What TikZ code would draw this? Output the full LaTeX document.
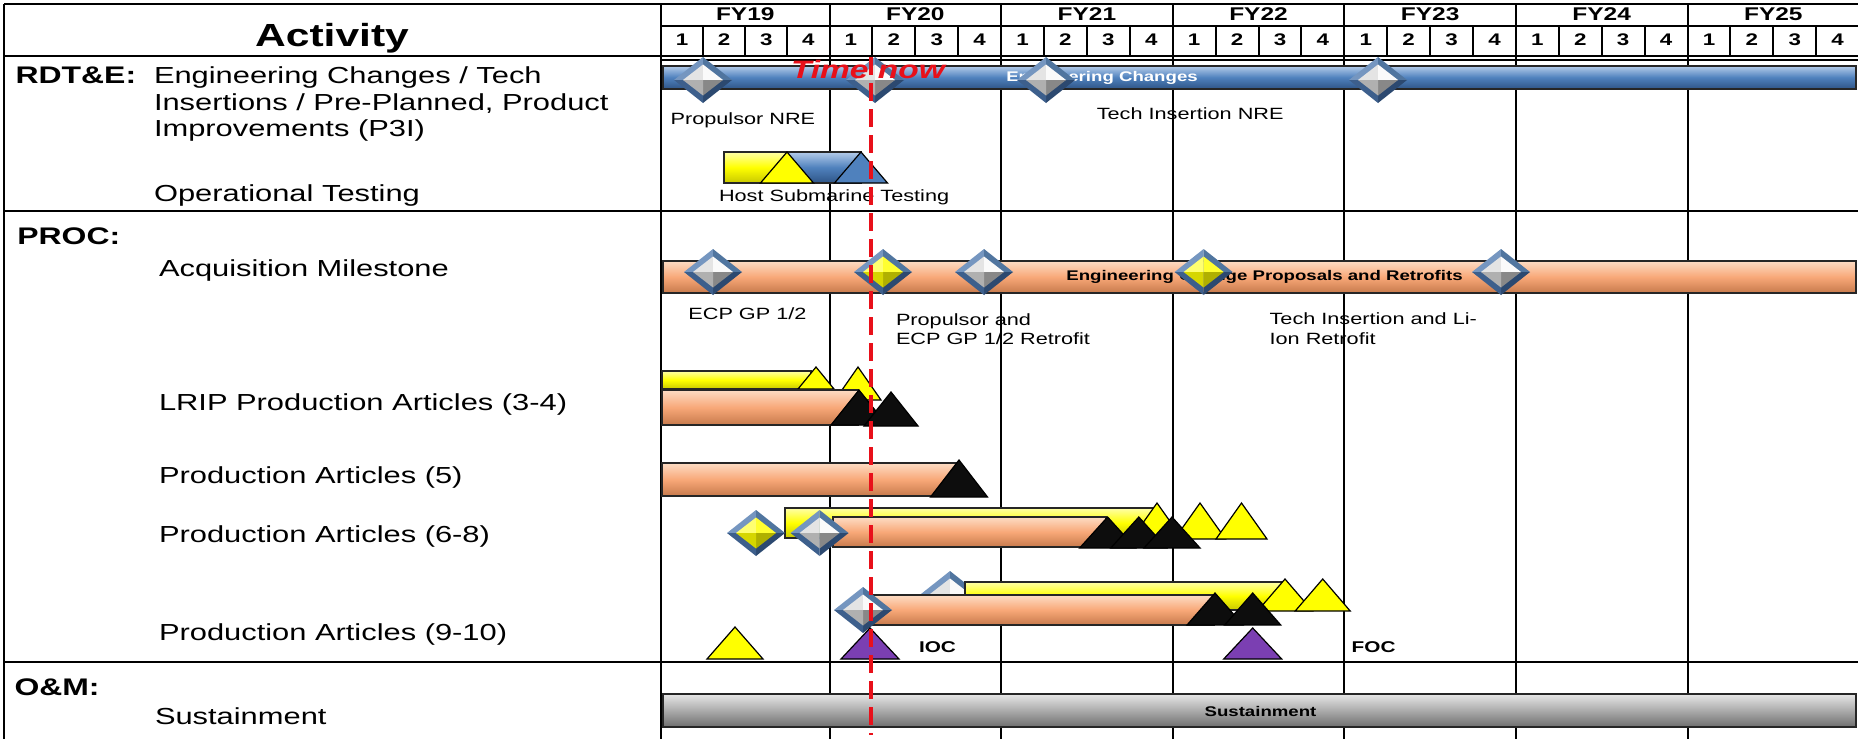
\documentclass[tikz,border=0pt]{standalone}
\usepackage{fontspec}
\setmainfont{Liberation Sans}
\definecolor{bT}{HTML}{B4CCEA}
\definecolor{bM}{HTML}{4F81BD}
\definecolor{bB}{HTML}{2F5587}
\definecolor{sT}{HTML}{FDDCC4}
\definecolor{sM}{HTML}{F8A878}
\definecolor{sB}{HTML}{C77A4C}
\definecolor{yT}{HTML}{FFFFA8}
\definecolor{yM}{HTML}{FFFF00}
\definecolor{yB}{HTML}{C8C800}
\definecolor{gT}{HTML}{E6E6E6}
\definecolor{gM}{HTML}{ABABAB}
\definecolor{gB}{HTML}{6E6E6E}
\definecolor{dUL}{HTML}{7596C0}
\definecolor{dUR}{HTML}{50759F}
\definecolor{dLR}{HTML}{2C4970}
\definecolor{dLL}{HTML}{3D5F8C}
\definecolor{wUL}{HTML}{E4E4E4}
\definecolor{wUR}{HTML}{FAFAFA}
\definecolor{wLR}{HTML}{888888}
\definecolor{wLL}{HTML}{B0B0B0}
\definecolor{yUL}{HTML}{FFFF70}
\definecolor{yUR}{HTML}{FFFF30}
\definecolor{yLR}{HTML}{B0B000}
\definecolor{yLL}{HTML}{D6D600}
\definecolor{purp}{HTML}{7B3FB2}
\definecolor{tnred}{HTML}{E8101A}
\newcommand\msDia[3]{%
  \fill[dUL] ({#1-29},{#2}) -- ({#1},{#2-23}) -- ({#1},{#2}) -- cycle;
  \fill[dUR] ({#1},{#2-23}) -- ({#1+29},{#2}) -- ({#1},{#2}) -- cycle;
  \fill[dLR] ({#1+29},{#2}) -- ({#1},{#2+23}) -- ({#1},{#2}) -- cycle;
  \fill[dLL] ({#1},{#2+23}) -- ({#1-29},{#2}) -- ({#1},{#2}) -- cycle;
  \fill[#3UL] ({#1-20},{#2}) -- ({#1},{#2-15.5}) -- ({#1},{#2}) -- cycle;
  \fill[#3UR] ({#1},{#2-15.5}) -- ({#1+20},{#2}) -- ({#1},{#2}) -- cycle;
  \fill[#3LR] ({#1+20},{#2}) -- ({#1},{#2+15.5}) -- ({#1},{#2}) -- cycle;
  \fill[#3LL] ({#1},{#2+15.5}) -- ({#1-20},{#2}) -- ({#1},{#2}) -- cycle;
}
\newcommand\msTri[5]{\draw[#5] ({#1},{#2}) -- ({#1+#4},{#3}) -- ({#1-#4},{#3}) -- cycle;}
\newcommand\msBar[5]{\draw[#5] ({#1},{#2}) rectangle ({#3},{#4});}
\begin{document}
\begin{tikzpicture}[x=0.5pt,y=-0.5pt,
  gridline/.style={line width=1pt,black},
  txt/.style={inner sep=0pt,outer sep=0pt,xscale=1.33},
  hdr/.style={txt,anchor=base,font=\fontsize{9.2}{10}\selectfont\bfseries},
  qtr/.style={txt,anchor=base,font=\fontsize{8.4}{10}\selectfont\bfseries},
  sec/.style={txt,anchor=base west,font=\fontsize{12}{14}\selectfont\bfseries},
  act/.style={txt,anchor=base west,font=\fontsize{11.6}{13}\selectfont},
  small/.style={txt,anchor=base west,font=\fontsize{8.15}{9.5}\selectfont},
  barlab/.style={txt,anchor=center,font=\fontsize{7}{8}\selectfont\bfseries},
  msl/.style={txt,anchor=west,font=\fontsize{7.8}{9}\selectfont\bfseries},
  barout/.style={draw=black!85,line width=0.6pt},
  bluebar/.style={barout,top color=bT,bottom color=bB,middle color=bM},
  salbar/.style={barout,top color=sT,bottom color=sB,middle color=sM},
  yelbar/.style={barout,top color=yT,bottom color=yB,middle color=yM},
  graybar/.style={barout,top color=gT,bottom color=gB,middle color=gM},
  ytri/.style={fill=yM,draw=black,line width=0.6pt,line join=miter},
  btri/.style={fill=black!95,draw=black,line width=0.6pt,line join=miter},
  bltri/.style={fill=bM,draw=black,line width=0.6pt,line join=miter},
  ptri/.style={fill=purp,draw=black,line width=0.6pt,line join=miter},
  timenow/.style={draw=tnred,line width=2.1pt,dash pattern=on 9pt off 4pt}
]
\useasboundingbox (0,0) rectangle (1858,739);
\fill[white] (0,0) rectangle (1858,739);
% ---- grid ----
\draw[gridline] (661,4) -- (661,739);
\foreach \k in {0,...,5}{\draw[gridline] ({829.5+171.6*\k},4) -- ({829.5+171.6*\k},739);}
\foreach \q in {1,2,3}{\draw[gridline] ({661+42.125*\q},26) -- ({661+42.125*\q},56);}
\foreach \q in {5,...,27}{\draw[gridline] ({829.5+42.9*(\q-4)},26) -- ({829.5+42.9*(\q-4)},56);}
\draw[line width=1.2pt] (4,4) -- (1858,4);
\draw[line width=1.2pt] (4,4) -- (4,739);
\draw[gridline] (661,26) -- (1858,26);
\draw[gridline] (4,56) -- (1858,56);
\draw[gridline] (661,59.5) -- (1858,59.5);
\draw[line width=1.2pt] (4,211) -- (1858,211);
\draw[line width=1.2pt] (4,662) -- (1858,662);
% ---- header text ----
\node[txt,anchor=base,font=\fontsize{16}{18}\selectfont\bfseries] (hact) at (332,46.7) {Activity};
\node[hdr] (fy19) at (745.25,20.7) {FY19};
\foreach \y [count=\i from 0] in {20,...,25}{\node[hdr] (fy\y) at ({829.5+171.6*\i+85.8},20.7) {FY\y};}
\foreach \q in {0,...,3}{\pgfmathtruncatemacro\qn{\q+1}\node[qtr] (q\q) at ({661+42.125*(\q+0.5)},45) {\qn};}
\foreach \q in {4,...,27}{\pgfmathtruncatemacro\qn{mod(\q,4)+1}\node[qtr] (q\q) at ({829.5+42.9*(\q-4+0.5)},45) {\qn};}
% ---- activity column ----
\node[sec] (srdte) at (15.6,83.3) {RDT\&E:};
\node[act] (a1) at (154,83.3) {Engineering Changes / Tech};
\node[act] (a2) at (154,110) {Insertions / Pre-Planned, Product};
\node[act] (a3) at (154,136.6) {Improvements (P3I)};
\node[act] (a4) at (154,201.6) {Operational Testing};
\node[sec] (sproc) at (17.4,244) {PROC:};
\node[act] (a5) at (159,276.3) {Acquisition Milestone};
\node[act] (a6) at (159,410) {LRIP Production Articles (3-4)};
\node[act] (a7) at (159,483) {Production Articles (5)};
\node[act] (a8) at (159,542.8) {Production Articles (6-8)};
\node[act] (a9) at (159,640) {Production Articles (9-10)};
\node[sec] (som) at (14.5,695.6) {O\&M:};
\node[act] (a10) at (155,724.3) {Sustainment};
% ---- RDT&E ----
\msBar{663}{66}{1856}{89}{bluebar}
\node[barlab,text=white] (lec) at (1102,78) {Engineering Changes};
\msDia{703}{80}{w}
\msDia{875}{80}{w}
\msDia{1046}{80}{w}
\msDia{1378}{80}{w}
\node[small] (lpn) at (670.6,124.1) {Propulsor NRE};
\node[small] (ltin) at (1096.8,119.1) {Tech Insertion NRE};
\msBar{724}{152}{788}{183}{yelbar}
\msBar{788}{152}{861}{183}{bluebar}
\msTri{787}{152}{183}{26.5}{ytri}
\msTri{861}{152}{183}{26.5}{bltri}
\node[small] (lhst) at (719,201.8) {Host Submarine Testing};
% ---- Acquisition ----
\msBar{663}{261}{1856}{293}{salbar}
\node[barlab] (lecp) at (1264.5,277) {Engineering Change Proposals and Retrofits};
\msDia{713}{272}{w}
\msDia{883}{272}{y}
\msDia{984}{272}{w}
\msDia{1203.6}{272}{y}
\msDia{1501}{272}{w}
\node[small] (lecp1) at (688.4,319.1) {ECP GP 1/2};
\node[small] (lpa1) at (896,325.8) {Propulsor and};
\node[small] (lpa2) at (896,344.8) {ECP GP 1/2 Retrofit};
\node[small] (lti1) at (1269.6,324.8) {Tech Insertion and Li-};
\node[small] (lti2) at (1269.6,344.1) {Ion Retrofit};
% ---- LRIP ----
\msBar{662}{371}{811}{389}{yelbar}
\msTri{816}{367}{389}{18}{ytri}
\msTri{858}{367}{400}{23}{ytri}
\msBar{662}{390}{858}{425}{salbar}
\msTri{859}{390}{425}{28}{btri}
\msTri{891}{392}{426}{27}{btri}
% ---- (5) ----
\msBar{662}{463}{959}{496}{salbar}
\msTri{959}{460}{497}{28.5}{btri}
% ---- (6-8) ----
\msBar{785}{508}{1154}{538}{yelbar}
\msTri{1157}{503}{539}{25.5}{ytri}
\msTri{1200}{503}{539}{25.5}{ytri}
\msTri{1241.5}{503}{539}{25.5}{ytri}
\msBar{833}{517}{1106}{547}{salbar}
\msTri{1107.6}{517}{548}{28}{btri}
\msTri{1138.8}{517}{548}{28}{btri}
\msTri{1172}{517}{548}{28}{btri}
\msDia{756}{533}{y}
\msDia{819.6}{533}{w}
% ---- (9-10) ----
\msDia{950}{594}{w}
\msBar{965}{582}{1284}{610}{yelbar}
\msTri{1285}{579}{611}{27.5}{ytri}
\msTri{1322.7}{579}{611}{27.5}{ytri}
\msBar{873}{595}{1214}{625}{salbar}
\msTri{1215}{593}{625}{28}{btri}
\msTri{1252.7}{593}{625}{28}{btri}
\msDia{863}{610}{w}
\msTri{735}{627}{659}{28}{ytri}
\msTri{870}{628}{659}{29}{ptri}
\msTri{1252.7}{628}{659}{29}{ptri}
\node[msl] (lioc) at (919,647) {IOC};
\node[msl] (lfoc) at (1351.7,647) {FOC};
% ---- Sustainment ----
\msBar{663}{694}{1856}{727}{graybar}
\node[barlab] (lsus) at (1260.5,711) {Sustainment};
% ---- Time now ----
\coordinate (tntop) at (871,57);
\coordinate (tnbot) at (871,735);
\draw[timenow] (tntop) -- (tnbot);
\node[txt,anchor=west,text=tnred,font=\fontsize{12.6}{14}\selectfont\bfseries\itshape] (ltn) at (791,69.3) {Time now};
\end{tikzpicture}
\end{document}
